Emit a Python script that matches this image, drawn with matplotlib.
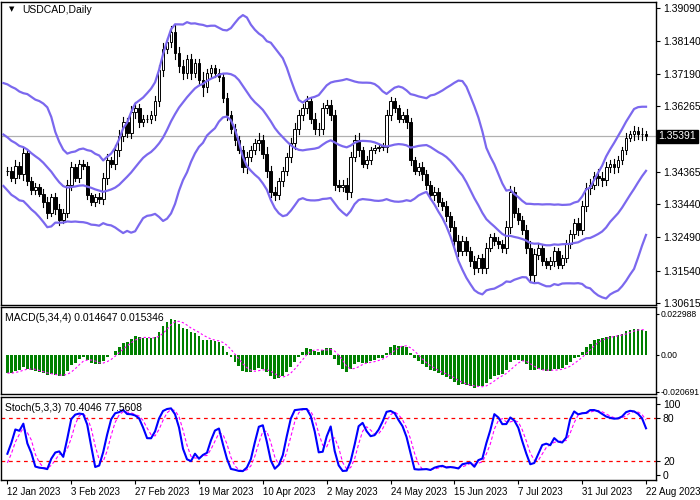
import numpy as np
import pandas as pd
import matplotlib
matplotlib.use("Agg")
import matplotlib.pyplot as plt
from matplotlib.patches import Rectangle

plt.rcParams['font.family'] = ['Liberation Sans', 'DejaVu Sans']

# closes before the visible window (needed for the indicators, off screen)
pre_close = [1.3600, 1.3620, 1.3580, 1.3600, 1.3560, 1.3550, 1.3590, 1.3570, 1.3540, 1.3560,
             1.3580, 1.3620, 1.3650, 1.3590, 1.3540, 1.3480, 1.3420, 1.3390, 1.3410, 1.3440]
close = [1.3440, 1.3420, 1.3455, 1.3430, 1.3490, 1.3410, 1.3385, 1.3395, 1.3375, 1.3350,
         1.3320, 1.3365, 1.3330, 1.3300, 1.3320, 1.3400, 1.3450, 1.3420, 1.3460, 1.3455,
         1.3370, 1.3350, 1.3365, 1.3360, 1.3420, 1.3470, 1.3460, 1.3500, 1.3540, 1.3580,
         1.3550, 1.3610, 1.3620, 1.3580, 1.3590, 1.3590, 1.3600, 1.3640, 1.3730, 1.3790,
         1.3810, 1.3840, 1.3780, 1.3740, 1.3720, 1.3760, 1.3720, 1.3750, 1.3700, 1.3680,
         1.3720, 1.3735, 1.3720, 1.3710, 1.3650, 1.3600, 1.3560, 1.3530, 1.3500, 1.3450,
         1.3480, 1.3500, 1.3520, 1.3530, 1.3490, 1.3440, 1.3380, 1.3370, 1.3410, 1.3440,
         1.3480, 1.3520, 1.3560, 1.3600, 1.3620, 1.3640, 1.3590, 1.3560, 1.3560, 1.3620,
         1.3630, 1.3600, 1.3400, 1.3395, 1.3400, 1.3380, 1.3480, 1.3530, 1.3500, 1.3460,
         1.3470, 1.3500, 1.3505, 1.3510, 1.3510, 1.3600, 1.3640, 1.3620, 1.3590, 1.3600,
         1.3580, 1.3470, 1.3440, 1.3450, 1.3430, 1.3400, 1.3370, 1.3380, 1.3350, 1.3340,
         1.3310, 1.3280, 1.3240, 1.3210, 1.3240, 1.3210, 1.3180, 1.3160, 1.3190, 1.3160,
         1.3220, 1.3250, 1.3240, 1.3230, 1.3220, 1.3280, 1.3380, 1.3320, 1.3300, 1.3270,
         1.3220, 1.3140, 1.3200, 1.3220, 1.3180, 1.3170, 1.3180, 1.3210, 1.3170, 1.3190,
         1.3230, 1.3260, 1.3290, 1.3270, 1.3340, 1.3390, 1.3400, 1.3425, 1.3420, 1.3415,
         1.3450, 1.3460, 1.3450, 1.3470, 1.3500, 1.3535, 1.3545, 1.3555, 1.3545, 1.3545,
         1.3539]
pre_wick = [20] * 20
wick_pips = [25, 20, 30, 20, 35, 20, 25, 20, 15, 25, 30, 20, 25, 30, 20, 25, 30, 20, 25, 20,
             20, 15, 20, 25, 30, 35, 20, 30, 35, 30, 25, 30, 35, 25, 20, 20, 25, 30, 30, 35,
             25, 30, 40, 30, 35, 25, 30, 20, 25, 50, 25, 20, 20, 25, 25, 30, 25, 30, 20, 25,
             30, 25, 25, 40, 25, 35, 30, 25, 20, 25, 25, 30, 35, 30, 25, 30, 25, 30, 35, 30,
             25, 30, 30, 25, 25, 40, 30, 25, 35, 20, 25, 20, 20, 15, 20, 30, 25, 20, 20, 20,
             35, 25, 20, 25, 30, 25, 20, 25, 20, 25, 30, 25, 30, 30, 25, 20, 25, 30, 20, 25,
             25, 20, 25, 20, 25, 30, 35, 25, 25, 20, 30, 40, 30, 25, 20, 20, 25, 25, 20, 20,
             25, 20, 25, 30, 25, 30, 35, 25, 40, 35, 30, 25, 30, 25, 20, 25, 20, 30, 25, 35,
             20]
date_labels = ["12 Jan 2023", "3 Feb 2023", "27 Feb 2023", "19 Mar 2023", "10 Apr 2023",
               "2 May 2023", "24 May 2023", "15 Jun 2023", "7 Jul 2023", "31 Jul 2023",
               "22 Aug 2023"]
price_ticks = [1.39090, 1.38140, 1.37190, 1.36265, 1.34365, 1.33440, 1.32490, 1.31540, 1.30615]
last_price = 1.35391

c_all = np.array(pre_close + close)
w_all = np.array(pre_wick + wick_pips) / 10000.0
o_all = np.concatenate([[c_all[0]], c_all[:-1]])
h_all = np.maximum(o_all, c_all) + w_all * 0.5
l_all = np.minimum(o_all, c_all) - w_all * 0.5
npre = len(pre_close)
idx = np.arange(len(c_all)) - npre

s = pd.Series(c_all)
mid = s.rolling(20).mean()
sd = s.rolling(20).std(ddof=0)
up, lo = mid + 2 * sd, mid - 2 * sd
macd = s.ewm(span=5, adjust=False).mean() - s.ewm(span=34, adjust=False).mean()
sig = macd.rolling(4).mean()
hh = pd.Series(h_all).rolling(5).max()
ll = pd.Series(l_all).rolling(5).min()
num = (s - ll).rolling(3).sum()
den = (hh - ll).rolling(3).sum()
K = 100 * num / den
D = K.rolling(3).mean()

fig = plt.figure(figsize=(7, 5), dpi=100)
R = 656 / 700
ax = fig.add_axes([0.002, 1 - 305 / 500, R - 0.002, 303 / 500])
axm = fig.add_axes([0.002, 1 - 394 / 500, R - 0.002, 87 / 500])
axs = fig.add_axes([0.002, 1 - 480 / 500, R - 0.002, 83 / 500])
xl = (-1.5, 162.5)
band_c = "#7B68EE"
m = idx >= -2
for i in np.where(idx >= 0)[0]:
    x = idx[i]
    ax.plot([x, x], [l_all[i], h_all[i]], color="black", lw=0.8, zorder=2)
    bull = c_all[i] >= o_all[i]
    b0 = min(o_all[i], c_all[i]); bh = max(abs(c_all[i] - o_all[i]), 0.00003)
    ax.add_patch(Rectangle((x - 0.35, b0), 0.7, bh, facecolor="white" if bull else "black",
                           edgecolor="black", lw=0.7, zorder=3))
for b in (up, mid, lo):
    ax.plot(idx[m], b[m], color=band_c, lw=1.6, zorder=4)
ax.axhline(last_price, color="#b0b0b0", lw=0.9, zorder=1)
ax.set_ylim(1.3055, 1.3925)
ax.set_yticks(price_ticks)
ax.set_yticklabels([f"{t:.5f}" for t in price_ticks])
ax.text(1.004, last_price, f"{last_price:.5f}", transform=ax.get_yaxis_transform(),
        color="white", fontsize=7.5, va="center", ha="left",
        bbox=dict(facecolor="black", edgecolor="black", pad=1.2))
ax.text(0.012, 0.985, "\u25bc", transform=ax.transAxes, fontsize=5, va="top",
        family=['DejaVu Sans'])
ax.text(0.032, 0.99, "USDCAD,Daily", transform=ax.transAxes, fontsize=7.5, va="top")

mi = idx >= 0
axm.bar(idx[mi], macd[mi], width=0.7, color="#008000", zorder=2)
axm.plot(idx[mi], sig[mi], color="#FF00FF", lw=0.8, ls=(0, (2, 2)), zorder=3)
axm.set_ylim(-0.0219, 0.0269)
axm.set_yticks([0.022988, 0.0, -0.020691])
axm.set_yticklabels(["0.022988", "0.00", "-0.020691"])
axm.text(0.005, 0.93, "MACD(5,34,4) 0.014647 0.015346", transform=axm.transAxes, fontsize=7.5, va="top")

axs.plot(idx[mi], K[mi], color="#0000FF", lw=1.5, zorder=3)
axs.plot(idx[mi], D[mi], color="#FF00FF", lw=0.8, ls=(0, (3, 2)), zorder=2)
for lv in (20, 80):
    axs.axhline(lv, color="red", lw=0.9, ls=(0, (3, 3)))
axs.set_ylim(-7, 110)
axs.set_yticks([100, 80, 20, 0])
axs.text(0.005, 0.93, "Stoch(5,3,3) 70.4046 77.5608", transform=axs.transAxes, fontsize=7.5, va="top")
axs.set_xticks([16 * k for k in range(len(date_labels))])
axs.set_xticklabels(date_labels, fontsize=7, ha="left")

for a in (ax, axm, axs):
    a.set_xlim(*xl)
    a.yaxis.tick_right()
    a.tick_params(axis="y", labelsize=7.5, length=3, width=0.8, pad=2)
    a.tick_params(axis="x", length=3, width=0.8, pad=2)
    for sp in a.spines.values():
        sp.set_linewidth(1.0)
axm.tick_params(axis="y", labelsize=6.2, length=2, pad=1)
for a in (ax, axm):
    a.set_xticks([])
fig.savefig("out.png", dpi=100)
